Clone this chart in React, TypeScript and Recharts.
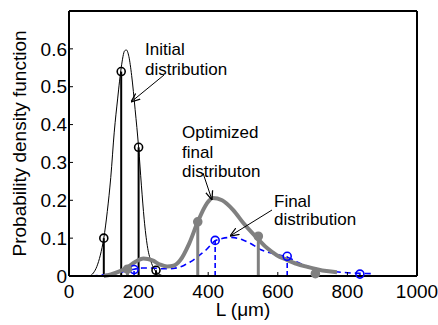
import { ComposedChart, Line, Scatter, XAxis, YAxis } from "recharts"

// axis ticks
const xTicks = [0, 200, 400, 600, 800, 1000]
const yTicks = [0, 0.1, 0.2, 0.3, 0.4, 0.5, 0.6]

// initial distribution (thin black curve + stems)
const initialL = [60, 70, 80, 90, 100, 110, 120, 130, 140, 150, 160, 165, 172, 180, 190, 200, 208, 216, 225, 235, 245, 255, 265, 275]
const initialP = [0, 0.008, 0.025, 0.055, 0.1, 0.17, 0.26, 0.38, 0.47, 0.55, 0.595, 0.597, 0.58, 0.53, 0.44, 0.34, 0.24, 0.15, 0.08, 0.04, 0.018, 0.007, 0.002, 0]
const initialStemL = [100, 150, 200, 250]
const initialStemP = [0.1, 0.54, 0.34, 0.015]

// optimized final distribution (thick grey)
const optimL = [100, 120, 145, 170, 190, 214, 240, 262, 282, 300, 320, 345, 370, 395, 413, 440, 472, 501, 525, 544, 570, 597, 625, 654, 685, 712, 740, 770]
const optimP = [0, 0.004, 0.012, 0.024, 0.037, 0.046, 0.041, 0.03, 0.025, 0.027, 0.042, 0.085, 0.143, 0.19, 0.206, 0.2, 0.174, 0.14, 0.115, 0.097, 0.073, 0.055, 0.043, 0.032, 0.024, 0.018, 0.013, 0.01]
const optimStemL = [168, 370, 544, 708]
const optimStemP = [0.018, 0.143, 0.105, 0.006]

// final distribution (blue dashed)
const finalL = [65, 100, 130, 155, 187, 210, 240, 270, 300, 330, 350, 375, 395, 420, 440, 467, 500, 529, 550, 575, 600, 627, 660, 700, 740, 780, 836, 874]
const finalP = [0, 0.003, 0.006, 0.011, 0.018, 0.021, 0.021, 0.019, 0.02, 0.028, 0.038, 0.055, 0.07, 0.093, 0.099, 0.102, 0.095, 0.082, 0.07, 0.062, 0.056, 0.05, 0.035, 0.022, 0.014, 0.01, 0.007, 0.006]
const finalStemL = [187, 420, 627, 836]
const finalStemP = [0.017, 0.094, 0.052, 0.005]

const zip = (xs: number[], ys: number[]) => xs.map((x, i) => ({ x, y: ys[i] }))

const FONT = "'Liberation Sans', Arial, sans-serif"
const GREY = "#808080"
const BLUE = "#0000ff"

function Stems({ xs, ys, color, width, dash }: { xs: number[]; ys: number[]; color: string; width: number; dash?: string }) {
  return (
    <>
      {xs.map((x, i) => (
        <Line
          key={"stem" + color + i}
          data={[{ x, y: 0 }, { x, y: ys[i] }]}
          dataKey="y"
          type="linear"
          stroke={color}
          strokeWidth={width}
          strokeDasharray={dash}
          dot={false}
          activeDot={false}
          isAnimationActive={false}
        />
      ))}
    </>
  )
}

const ring = (color: string, filled: boolean) => (p: any) =>
  <circle cx={p.cx} cy={p.cy} r={4} fill={filled ? color : "none"} stroke={color} strokeWidth={1.6} />

export default function App() {
  const tickStyle = { fontSize: 19, fontFamily: FONT, fill: "#000" }
  const frame = { stroke: "#000", strokeWidth: 2 }
  return (
    <div style={{ position: "absolute", left: 0, top: 0, width: 438, height: 325, background: "#fff" }}>
      <ComposedChart width={438} height={325} margin={{ top: 10, right: 20, bottom: 0, left: 0 }}>
        <XAxis
          type="number"
          dataKey="x"
          domain={[0, 1000]}
          ticks={xTicks}
          interval={0}
          height={49}
          tickSize={-4}
          tickMargin={13}
          tick={tickStyle}
          axisLine={frame}
          tickLine={{ stroke: "#000" }}
          label={{ value: "L (μm)", position: "insideBottom", offset: 9, style: { fontSize: 19, fontFamily: FONT, fill: "#000" } }}
        />
        <XAxis
          xAxisId="top"
          orientation="top"
          type="number"
          dataKey="x"
          domain={[0, 1000]}
          ticks={xTicks}
          interval={0}
          height={1}
          tickSize={-4}
          tickFormatter={() => ""}
          axisLine={frame}
          tickLine={{ stroke: "#000" }}
        />
        <YAxis
          type="number"
          domain={[0, 0.7]}
          ticks={yTicks}
          interval={0}
          width={69}
          tickSize={-4}
          tickMargin={6}
          tick={tickStyle}
          axisLine={frame}
          tickLine={{ stroke: "#000" }}
          label={{
            value: "Probability density function",
            angle: -90,
            position: "insideLeft",
            offset: 19,
            style: { textAnchor: "middle", fontSize: 19, fontFamily: FONT, fill: "#000" },
          }}
        />
        <YAxis
          yAxisId="right"
          orientation="right"
          type="number"
          domain={[0, 0.7]}
          ticks={yTicks}
          interval={0}
          width={1}
          tickSize={-4}
          tickFormatter={() => ""}
          axisLine={frame}
          tickLine={{ stroke: "#000" }}
        />

        <Line data={zip(initialL, initialP)} dataKey="y" type="monotone" stroke="#000" strokeWidth={1} dot={false} activeDot={false} isAnimationActive={false} />
        {Stems({ xs: initialStemL, ys: initialStemP, color: "#000", width: 2 })}

        <Line data={zip(finalL, finalP)} dataKey="y" type="monotone" stroke={BLUE} strokeWidth={1.6} strokeDasharray="6 4" dot={false} activeDot={false} isAnimationActive={false} />
        {Stems({ xs: finalStemL, ys: finalStemP, color: BLUE, width: 1.6, dash: "5 3" })}

        <Line data={zip(optimL, optimP)} dataKey="y" type="monotone" stroke={GREY} strokeWidth={4} dot={false} activeDot={false} isAnimationActive={false} />
        {Stems({ xs: optimStemL, ys: optimStemP, color: GREY, width: 3 })}

        <Scatter data={zip(initialStemL, initialStemP)} dataKey="y" shape={ring("#000", false)} isAnimationActive={false} />
        <Scatter data={zip(finalStemL, finalStemP)} dataKey="y" shape={ring(BLUE, false)} isAnimationActive={false} />
        <Scatter data={zip(optimStemL, optimStemP)} dataKey="y" shape={ring(GREY, true)} isAnimationActive={false} />
      </ComposedChart>

      <svg width={438} height={325} style={{ position: "absolute", left: 0, top: 0, pointerEvents: "none" }}>
        <defs>
          <marker id="arr" viewBox="0 0 10 10" refX="10" refY="5" markerWidth="9" markerHeight="9" orient="auto" markerUnits="userSpaceOnUse">
            <path d="M0,1 L10,5 L0,9" fill="none" stroke="#000" strokeWidth={1.4} />
          </marker>
        </defs>
        <g fontFamily={FONT} fontSize={17} fill="#000">
          <text x={145} y={55}>Initial</text>
          <text x={145} y={75}>distribution</text>
          <text x={182} y={138}>Optimized</text>
          <text x={182} y={158}>final</text>
          <text x={182} y={177}>distributon</text>
          <text x={274} y={207}>Final</text>
          <text x={274} y={225}>distribution</text>
        </g>
        <line x1={164} y1={75} x2={131} y2={102} stroke="#000" strokeWidth={1} markerEnd="url(#arr)" />
        <line x1={203} y1={173} x2={212} y2={200} stroke="#000" strokeWidth={1} markerEnd="url(#arr)" />
        <line x1={272} y1={210} x2={230} y2={236} stroke="#000" strokeWidth={1} markerEnd="url(#arr)" />
      </svg>
    </div>
  )
}
